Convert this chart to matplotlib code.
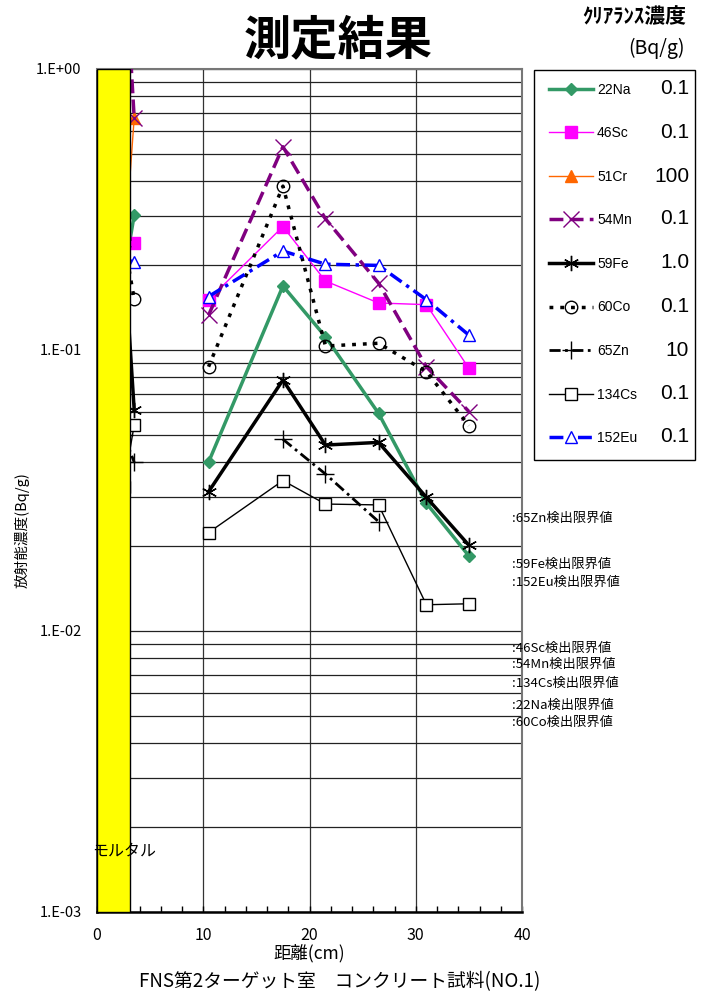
import numpy as np
import matplotlib
matplotlib.use('Agg')
import matplotlib.pyplot as plt
from matplotlib.ticker import MultipleLocator, FuncFormatter, LogLocator, NullFormatter
from matplotlib.lines import Line2D
from matplotlib.patches import Rectangle

plt.rcParams['font.family'] = ['Noto Sans CJK JP', 'DejaVu Sans']

# distances (cm): mortar layer and concrete
dist_mortar = [2.5, 3.5]
dist_conc = [10.5, 17.5, 21.5, 26.5, 31.0, 35.0]

nuclides = ['22Na', '46Sc', '51Cr', '54Mn', '59Fe', '60Co', '65Zn', '134Cs', '152Eu']
clearance = ['0.1', '0.1', '100', '0.1', '1.0', '0.1', '10', '0.1', '0.1']

na22_m = [0.18, 0.302]
na22_c = [0.0399, 0.169, 0.1115, 0.0595, 0.0285, 0.0185]
sc46_m = [0.25, 0.240]
sc46_c = [0.151, 0.275, 0.176, 0.147, 0.145, 0.0861]
cr51_m = [0.20, 0.669]
cr51_c = [np.nan, np.nan, np.nan, np.nan, np.nan, np.nan]
mn54_m = [3.0, 0.669]
mn54_c = [0.133, 0.529, 0.293, 0.173, 0.0872, 0.0604]
fe59_m = [0.24, 0.0612]
fe59_c = [0.0313, 0.0782, 0.0459, 0.0469, 0.0299, 0.0202]
co60_m = [0.25, 0.152]
co60_c = [0.0872, 0.383, 0.1033, 0.1057, 0.0838, 0.0538]
zn65_m = [0.05, 0.0399]
zn65_c = [np.nan, 0.0481, 0.0362, 0.0245, np.nan, np.nan]
cs134_m = [0.0325, 0.0541]
cs134_c = [0.0224, 0.0343, 0.0283, 0.0281, 0.0124, 0.0125]
eu152_m = [0.21, 0.206]
eu152_c = [0.155, 0.225, 0.202, 0.200, 0.151, 0.113]

# detection limits (labels on right edge)
dl_labels = [':65Zn検出限界値', ':59Fe検出限界値', ':152Eu検出限界値', ':46Sc検出限界値',
             ':54Mn検出限界値', ':134Cs検出限界値', ':22Na検出限界値', ':60Co検出限界値']
dl_values = [0.0252, 0.0172, 0.0149, 0.0087, 0.0076, 0.0065, 0.00545, 0.00474]

series = [
    (na22_m, na22_c, dict(color='#339966', lw=2.5, ls='-', marker='D', ms=6, mfc='#339966', mec='#339966')),
    (sc46_m, sc46_c, dict(color='#FF00FF', lw=1.0, ls='-', marker='s', ms=8, mfc='#FF00FF', mec='#FF00FF')),
    (cr51_m, cr51_c, dict(color='#FF6600', lw=1.0, ls='-', marker='^', ms=8, mfc='#FF6600', mec='#FF6600')),
    (mn54_m, mn54_c, dict(color='#800080', lw=2.5, ls=(0, (4, 1.8)), marker='x', ms=11, mew=1.0, mec='#800080')),
    (fe59_m, fe59_c, dict(color='black', lw=2.5, ls='-', marker=(6, 2, 0), ms=11, mew=1.0, mec='black')),
    (co60_m, co60_c, dict(color='black', lw=2.5, ls=(0, (1.1, 2.0)), marker='o', ms=9, mew=1.0, mfc='none', mec='black')),
    (zn65_m, zn65_c, dict(color='black', lw=2.0, ls=(0, (4, 1.6, 1, 1.6)), marker='+', ms=13, mew=1.0, mec='black')),
    (cs134_m, cs134_c, dict(color='black', lw=1.0, ls='-', marker='s', ms=9, mew=1.0, mfc='white', mec='black')),
    (eu152_m, eu152_c, dict(color='#0000FF', lw=2.5, ls=(0, (4, 1.6, 1, 1.6)), marker='^', ms=9, mew=1.0, mfc='white', mec='#0000FF')),
]

fig = plt.figure(figsize=(7.05, 9.92), dpi=100)
ax = fig.add_axes([97 / 705, 80 / 992, 425 / 705, 843 / 992])

handles = []
for (ym, yc, st), name in zip(series, nuclides):
    ax.plot(dist_mortar, ym, zorder=3, **st)
    ax.plot(dist_conc, yc, zorder=3, **st)
    handles.append(Line2D([], [], label=name, **st))

ax.set_yscale('log')
ax.set_ylim(1e-3, 1.0)
ax.set_xlim(0, 40)

# mortar layer
ax.axvspan(0, 3.1, facecolor='yellow', edgecolor='black', lw=1.0, zorder=6)
ax.text(2.55, 0.00165, 'モルタル', ha='center', va='center', fontsize=11.5, zorder=7)

# grid
ax.yaxis.set_major_locator(LogLocator(base=10, numticks=10))
ax.yaxis.set_minor_locator(LogLocator(base=10, subs=np.arange(2, 10), numticks=10))
ax.yaxis.set_minor_formatter(NullFormatter())
ax.yaxis.set_major_formatter(FuncFormatter(lambda v, p: '1.E%+03d' % int(round(np.log10(v)))))
ax.grid(True, which='both', axis='y', color='#222222', lw=0.9, zorder=1)
ax.xaxis.set_major_locator(MultipleLocator(10))
ax.xaxis.set_minor_locator(MultipleLocator(2))
ax.grid(True, which='major', axis='x', color='#333333', lw=0.9, zorder=1)
ax.tick_params(axis='y', which='both', length=0, labelsize=10.5, pad=11)
ax.tick_params(axis='x', which='both', direction='in', length=4, width=1, labelsize=11.5, pad=11)

for s in ['top', 'right']:
    ax.spines[s].set_color('#777777')
    ax.spines[s].set_linewidth(1.5)
for s in ['left', 'bottom']:
    ax.spines[s].set_color('black')
    ax.spines[s].set_linewidth(1.8)

ax.set_xlabel('距離(cm)', fontsize=12.5, labelpad=0)
fig.text(22 / 705, 1 - 530 / 992, '放射能濃度(Bq/g)', rotation=90, ha='center', va='center', fontsize=10.5)

for lab, v in zip(dl_labels, dl_values):
    ax.text(39.05, v, lab, ha='left', va='center', fontsize=9.5, clip_on=False)

fig.text(338 / 705, 1 - 40 / 992, '測定結果', ha='center', va='center', fontsize=34, weight='bold')
fig.text(634 / 705, 1 - 17 / 992, 'ｸﾘｱﾗﾝｽ濃度', ha='center', va='center', fontsize=15, weight='bold')
fig.text(656 / 705, 1 - 48 / 992, '(Bq/g)', ha='center', va='center', fontsize=14)
fig.text(340 / 705, 1 - 982 / 992, 'FNS第2ターゲット室　コンクリート試料(NO.1)', ha='center', va='center', fontsize=13.5)

# legend box
fig.patches.append(Rectangle((534 / 705, 1 - 460 / 992), 161 / 705, 390 / 992, transform=fig.transFigure,
                             facecolor='white', edgecolor='black', lw=1.0))
leg = fig.legend(handles=handles, loc='upper left', bbox_to_anchor=(536 / 705, 1 - 70 / 992),
                 frameon=False, numpoints=1, handlelength=3.2, handletextpad=0.3,
                 labelspacing=2.13, prop={'family': 'Liberation Sans', 'size': 10})
row_y = [89, 132, 176, 219, 262, 306, 350, 393, 436]
for val, yy in zip(clearance, row_y):
    fig.text(689 / 705, 1 - yy / 992, val, ha='right', va='center', fontsize=15, family='Liberation Sans')

fig.savefig('out.png', dpi=100)
